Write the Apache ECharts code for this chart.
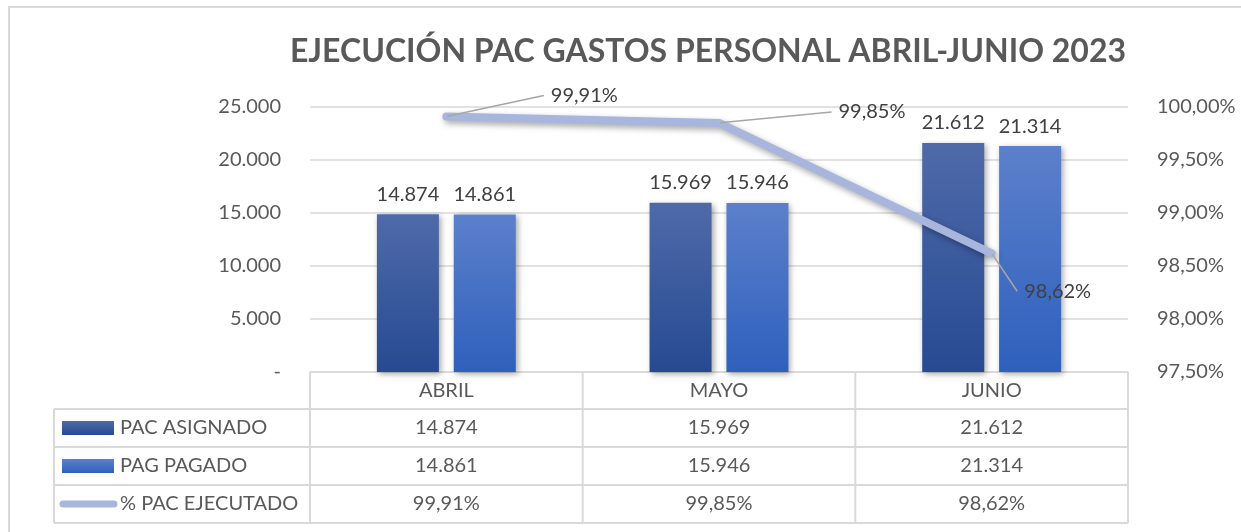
<!DOCTYPE html>
<html>
<head>
<meta charset="utf-8">
<script src="https://cdn.jsdelivr.net/npm/echarts@6/dist/echarts.min.js"></script>
<style>
  html, body { margin: 0; padding: 0; background: #fff; }
  #chart { width: 1241px; height: 532px; }
</style>
</head>
<body>
<div id="chart"></div>
<script>
const months = ['ABRIL', 'MAYO', 'JUNIO'];
const pacAsignado = [14874, 15969, 21612];
const pagPagado = [14861, 15946, 21314];
const pctEjecutado = [99.91, 99.85, 98.62];
const seriesNames = ['PAC ASIGNADO', 'PAG PAGADO', '% PAC EJECUTADO'];
// where the line labels sit relative to their point (dx, dy)
const pctLabelShift = [[138, -21], [153, -11], [66, 38]];

const FONT = 'Lato';
const TXT = '#595959';
const GRID = '#d9d9d9';

function fmtMiles(v) {
  if (v === 0) return '-';
  return Math.round(v).toString().replace(/\B(?=(\d{3})+(?!\d))/g, '.');
}
function fmtPct(v) {
  return v.toFixed(2).replace('.', ',') + '%';
}

const grad1 = new echarts.graphic.LinearGradient(0, 0, 0, 1, [
  { offset: 0, color: '#4f6aa9' }, { offset: 1, color: '#264a92' }
]);
const grad2 = new echarts.graphic.LinearGradient(0, 0, 0, 1, [
  { offset: 0, color: '#5c80cb' }, { offset: 1, color: '#2e60bc' }
]);
const lineColor = '#a8b6dd';

let chartDom = document.getElementById('chart');
let myChart = echarts.init(chartDom);
let option;

const barShadow = {
  shadowBlur: 6, shadowColor: 'rgba(0,0,0,0.35)', shadowOffsetX: 2, shadowOffsetY: 2
};

option = {
  animation: false,
  textStyle: { fontFamily: FONT },
  title: {
    text: 'EJECUCIÓN PAC GASTOS PERSONAL ABRIL-JUNIO 2023',
    left: 703,
    top: 31,
    textAlign: 'center',
    textStyle: { fontFamily: FONT, fontWeight: 'bold', fontSize: 32, color: TXT }
  },
  grid: { left: 310, right: 113, top: 107, bottom: 160 },
  xAxis: {
    type: 'category',
    data: months,
    axisLine: { lineStyle: { color: GRID, width: 1.5 } },
    axisTick: { show: false },
    axisLabel: { color: TXT, fontSize: 20, margin: 9 }
  },
  yAxis: [
    {
      type: 'value', min: 0, max: 25000, interval: 5000,
      axisLine: { show: false }, axisTick: { show: false },
      splitLine: { lineStyle: { color: GRID, width: 1.5 } },
      axisLabel: { color: TXT, fontSize: 20, margin: 29, formatter: fmtMiles }
    },
    {
      type: 'value', min: 97.5, max: 100, interval: 0.5,
      axisLine: { show: false }, axisTick: { show: false },
      splitLine: { show: false },
      axisLabel: { color: TXT, fontSize: 20, margin: 29, formatter: fmtPct }
    }
  ],
  series: [
    {
      name: seriesNames[0], type: 'bar', data: pacAsignado,
      barWidth: 62, barGap: '24%',
      itemStyle: Object.assign({ color: grad1 }, barShadow),
      label: { show: true, position: 'top', distance: 10, color: '#404040', fontSize: 20, formatter: p => fmtMiles(p.value) }
    },
    {
      name: seriesNames[1], type: 'bar', data: pagPagado,
      barWidth: 62,
      itemStyle: Object.assign({ color: grad2 }, barShadow),
      label: { show: true, position: 'top', distance: 10, color: '#404040', fontSize: 20, formatter: p => fmtMiles(p.value) }
    },
    {
      name: seriesNames[2], type: 'line', yAxisIndex: 1, data: pctEjecutado,
      z: 5,
      symbol: 'circle',
      symbolSize: 2,
      showSymbol: true,
      lineStyle: {
        color: lineColor, width: 8, cap: 'round', join: 'round',
        shadowBlur: 6, shadowColor: 'rgba(0,0,0,0.35)', shadowOffsetX: 2, shadowOffsetY: 3
      },
      itemStyle: { color: lineColor },
      label: {
        show: true, position: 'inside', color: '#404040', fontSize: 20,
        padding: [2, 7], backgroundColor: 'rgba(255,255,255,0)',
        formatter: p => fmtPct(p.value)
      },
      labelLine: { show: true, lineStyle: { color: '#a6a6a6', width: 1.5 } },
      labelLayout: p => ({ dx: pctLabelShift[p.dataIndex][0], dy: pctLabelShift[p.dataIndex][1] })
    }
  ]
};

option && myChart.setOption(option);

// data table under the plot, plus the outer chart border
function drawTable() {
  const x0 = myChart.convertToPixel({ xAxisIndex: 0 }, 0);
  const x1 = myChart.convertToPixel({ xAxisIndex: 0 }, 1);
  const step = x1 - x0;
  const left = x0 - step / 2;
  const right = left + step * months.length;
  const yTop = myChart.convertToPixel({ yAxisIndex: 0 }, 0);
  const rowH = 38;
  const headH = 37;
  const tableLeft = 54;
  const els = [];
  const ls = { stroke: GRID, lineWidth: 2 };

  els.push({ type: 'rect', shape: { x: 9, y: 7, width: 1260, height: 560 }, style: { fill: 'none', stroke: GRID, lineWidth: 2 }, silent: true });

  // vertical lines
  for (let i = 0; i <= months.length; i++) {
    const x = left + step * i;
    els.push({ type: 'line', shape: { x1: x, y1: yTop, x2: x, y2: yTop + headH + rowH * 3 }, style: ls });
  }
  els.push({ type: 'line', shape: { x1: tableLeft, y1: yTop + headH, x2: tableLeft, y2: yTop + headH + rowH * 3 }, style: ls });
  for (let r = 0; r <= 3; r++) {
    const y = yTop + headH + rowH * r;
    els.push({ type: 'line', shape: { x1: tableLeft, y1: y, x2: right, y2: y }, style: ls });
  }

  const rows = [pacAsignado.map(fmtMiles), pagPagado.map(fmtMiles), pctEjecutado.map(fmtPct)];
  rows.forEach((vals, r) => {
    const cy = yTop + headH + rowH * r + rowH / 2;
    vals.forEach((v, c) => {
      els.push({ type: 'text', x: x0 + step * c, y: cy, style: { text: v, fill: TXT, font: '20px ' + FONT, align: 'center', verticalAlign: 'middle' } });
    });
    els.push({ type: 'text', x: 120, y: cy, style: { text: seriesNames[r], fill: TXT, font: '20px ' + FONT, align: 'left', verticalAlign: 'middle' } });
    if (r < 2) {
      els.push({ type: 'rect', shape: { x: 62, y: cy - 7, width: 52, height: 14 }, style: { fill: r === 0 ? grad1 : grad2 } });
    } else {
      els.push({ type: 'line', shape: { x1: 63, y1: cy, x2: 114, y2: cy }, style: { stroke: lineColor, lineWidth: 7, lineCap: 'round' } });
    }
  });

  myChart.setOption({ graphic: els });
}
drawTable();
</script>
</body>
</html>
